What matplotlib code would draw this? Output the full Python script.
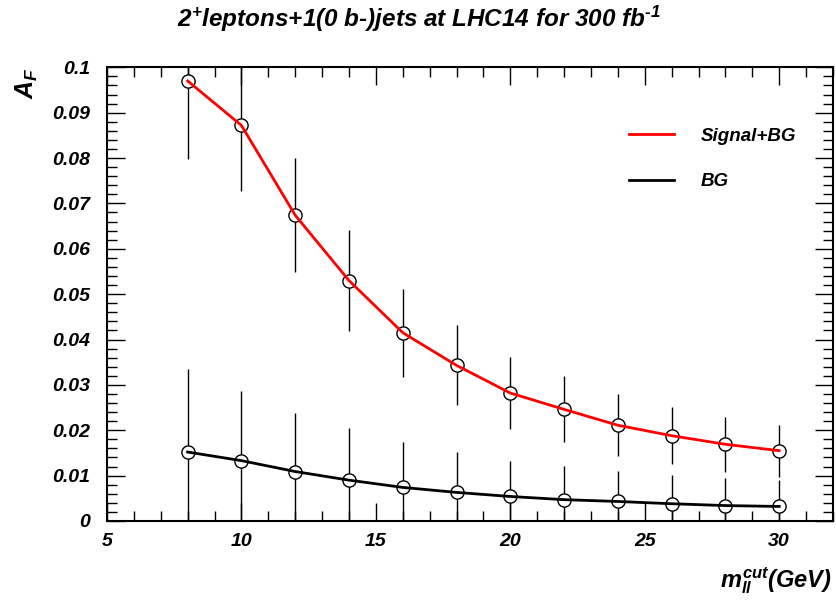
import matplotlib
matplotlib.use('Agg')
import matplotlib.pyplot as plt
from matplotlib.ticker import MultipleLocator, FormatStrFormatter

plt.rcParams['font.family'] = ['Liberation Sans', 'DejaVu Sans']
plt.rcParams['font.weight'] = 'bold'
plt.rcParams['font.style'] = 'italic'
plt.rcParams['mathtext.fontset'] = 'custom'
plt.rcParams['mathtext.rm'] = 'Liberation Sans:italic:bold'
plt.rcParams['mathtext.it'] = 'Liberation Sans:italic:bold'
plt.rcParams['mathtext.bf'] = 'Liberation Sans:italic:bold'

# m_ll cut values (GeV)
mcut = [8, 10, 12, 14, 16, 18, 20, 22, 24, 26, 28, 30]

# A_F for signal + background, with errors
af_sig = [0.0970, 0.0872, 0.0674, 0.0530, 0.0415, 0.0343, 0.0282, 0.0246, 0.0211, 0.0188, 0.0169, 0.0155]
err_sig = [0.0171, 0.0145, 0.0126, 0.0112, 0.0097, 0.0088, 0.0079, 0.0073, 0.0068, 0.0063, 0.0060, 0.0057]

# A_F for background only, with errors
af_bg = [0.0152, 0.0133, 0.0109, 0.0090, 0.0074, 0.0063, 0.0054, 0.0047, 0.0043, 0.0038, 0.0034, 0.0032]
err_bg = [0.0183, 0.0153, 0.0130, 0.0114, 0.0099, 0.0089, 0.0079, 0.0075, 0.0067, 0.0063, 0.0061, 0.0058]

fig = plt.figure(figsize=(8.37, 6.0), dpi=100)
ax = fig.add_axes([0.1278, 0.1317, 0.8674, 0.7561])

for y, e, col, lab in [(af_sig, err_sig, 'red', 'Signal+BG'), (af_bg, err_bg, 'black', 'BG')]:
    ax.errorbar(mcut, y, yerr=e, fmt='none', ecolor='black', elinewidth=1.0, capsize=0, zorder=2)
    ax.plot(mcut, y, 'o', ms=9.5, mfc='white', mec='black', mew=1.0, zorder=3)
    ax.plot(mcut, y, '-', color=col, lw=2.0, label=lab, zorder=4)

ax.set_xlim(5, 32)
ax.set_ylim(0, 0.1)
ax.xaxis.set_major_locator(MultipleLocator(5))
ax.xaxis.set_minor_locator(MultipleLocator(1))
ax.yaxis.set_major_locator(MultipleLocator(0.01))
ax.yaxis.set_minor_locator(MultipleLocator(0.002))
ax.yaxis.set_major_formatter(FormatStrFormatter('%g'))
ax.tick_params(which='both', direction='in', top=True, right=True, labelsize=14)
ax.tick_params(which='major', length=13, width=1.0)
ax.tick_params(which='minor', length=7, width=1.0)
ax.tick_params(axis='x', pad=9)
ax.tick_params(axis='y', pad=12)
for s in ax.spines.values():
    s.set_linewidth(1.5)

leg = ax.legend(loc='center left', bbox_to_anchor=(0.719, 0.798), frameon=False,
                borderpad=0, borderaxespad=0, fontsize=13.5, handlelength=2.4,
                handletextpad=1.45, labelspacing=1.5)

# plain hyphen in the exponent, like the original
fig.text(0.5, 0.955, '$2^{+}$leptons+1(0 b-)jets at LHC14 for 300 fb$^{\u2010 1}$',
         ha='center', va='baseline', fontsize=17.5)
fig.text(0.032, 0.862, r'$A_F$', rotation=90, ha='center', va='center', fontsize=18)
fig.text(0.994, 0.02, r'$m_{ll}^{cut}$(GeV)', ha='right', va='baseline', fontsize=17)

fig.savefig('out.png', dpi=100)
